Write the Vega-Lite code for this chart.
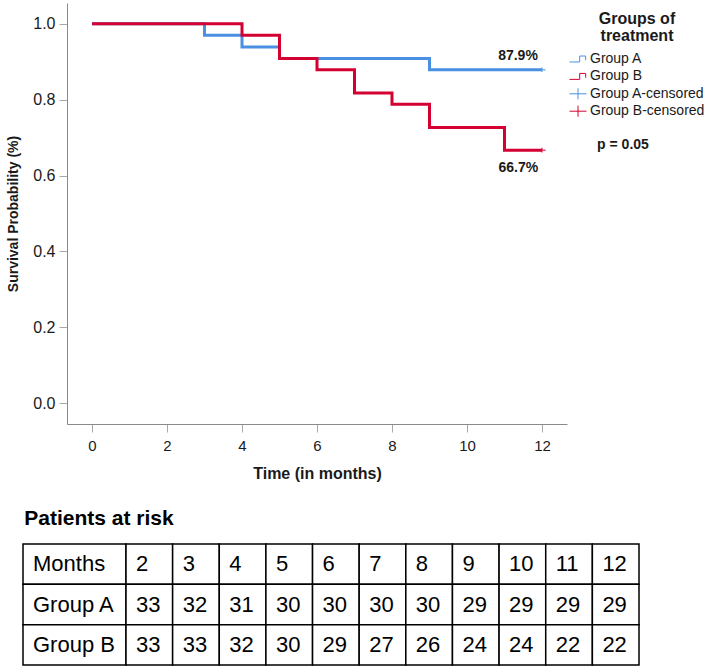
{
  "$schema": "https://vega.github.io/schema/vega-lite/v6.json",
  "padding": {"left": 6, "top": 3, "right": 0, "bottom": 0},
  "background": "white",
  "config": {
    "font": "Liberation Sans",
    "view": {"stroke": null},
    "axis": {"grid": false}
  },
  "datasets": {
    "km": [
      {"series": "Group A", "month": 0, "surv": 1.0},
      {"series": "Group A", "month": 3, "surv": 0.970},
      {"series": "Group A", "month": 4, "surv": 0.939},
      {"series": "Group A", "month": 5, "surv": 0.909},
      {"series": "Group A", "month": 9, "surv": 0.879},
      {"series": "Group A", "month": 12, "surv": 0.879},
      {"series": "Group B", "month": 0, "surv": 1.0},
      {"series": "Group B", "month": 4, "surv": 0.970},
      {"series": "Group B", "month": 5, "surv": 0.909},
      {"series": "Group B", "month": 6, "surv": 0.879},
      {"series": "Group B", "month": 7, "surv": 0.818},
      {"series": "Group B", "month": 8, "surv": 0.788},
      {"series": "Group B", "month": 9, "surv": 0.727},
      {"series": "Group B", "month": 11, "surv": 0.667},
      {"series": "Group B", "month": 12, "surv": 0.667}
    ],
    "censor": [
      {"series": "Group A-censored", "month": 12, "surv": 0.879},
      {"series": "Group B-censored", "month": 12, "surv": 0.667}
    ],
    "notes": [
      {"month": 11.36, "surv": 0.916, "label": "87.9%"},
      {"month": 11.37, "surv": 0.621, "label": "66.7%"},
      {"month": 14.16, "surv": 0.681, "label": "p = 0.05"}
    ],
    "labels": [
      {"row": "Months", "col": "label", "text": "Months"},
      {"row": "Group A", "col": "label", "text": "Group A"},
      {"row": "Group B", "col": "label", "text": "Group B"}
    ],
    "cells": [
      {"row": "Months", "col": 2, "text": "2"},
      {"row": "Months", "col": 3, "text": "3"},
      {"row": "Months", "col": 4, "text": "4"},
      {"row": "Months", "col": 5, "text": "5"},
      {"row": "Months", "col": 6, "text": "6"},
      {"row": "Months", "col": 7, "text": "7"},
      {"row": "Months", "col": 8, "text": "8"},
      {"row": "Months", "col": 9, "text": "9"},
      {"row": "Months", "col": 10, "text": "10"},
      {"row": "Months", "col": 11, "text": "11"},
      {"row": "Months", "col": 12, "text": "12"},
      {"row": "Group A", "col": 2, "text": "33"},
      {"row": "Group A", "col": 3, "text": "32"},
      {"row": "Group A", "col": 4, "text": "31"},
      {"row": "Group A", "col": 5, "text": "30"},
      {"row": "Group A", "col": 6, "text": "30"},
      {"row": "Group A", "col": 7, "text": "30"},
      {"row": "Group A", "col": 8, "text": "30"},
      {"row": "Group A", "col": 9, "text": "29"},
      {"row": "Group A", "col": 10, "text": "29"},
      {"row": "Group A", "col": 11, "text": "29"},
      {"row": "Group A", "col": 12, "text": "29"},
      {"row": "Group B", "col": 2, "text": "33"},
      {"row": "Group B", "col": 3, "text": "33"},
      {"row": "Group B", "col": 4, "text": "32"},
      {"row": "Group B", "col": 5, "text": "30"},
      {"row": "Group B", "col": 6, "text": "29"},
      {"row": "Group B", "col": 7, "text": "27"},
      {"row": "Group B", "col": 8, "text": "26"},
      {"row": "Group B", "col": 9, "text": "24"},
      {"row": "Group B", "col": 10, "text": "24"},
      {"row": "Group B", "col": 11, "text": "22"},
      {"row": "Group B", "col": 12, "text": "22"}
    ]
  },
  "spacing": 27,
  "vconcat": [
    {
      "width": 500,
      "height": 421,
      "layer": [
        {
          "data": {"name": "km"},
          "mark": {"type": "line", "interpolate": "step-after", "strokeWidth": 3},
          "encoding": {
            "x": {
              "field": "month", "type": "quantitative",
              "scale": {"domain": [-0.667, 12.667], "nice": false, "zero": false},
              "axis": {
                "values": [0, 2, 4, 6, 8, 10, 12],
                "title": "Time (in months)",
                "titleFontSize": 16, "titleFontWeight": "bold", "titleColor": "#1a1a1a",
                "labelFontSize": 15, "labelColor": "#1a1a1a", "labelFlush": false,
                "tickSize": 8, "labelPadding": 6, "titlePadding": 12,
                "domainColor": "#8a8a8a", "tickColor": "#a8a8a8"
              }
            },
            "y": {
              "field": "surv", "type": "quantitative",
              "scale": {"domain": [-0.055, 1.055], "nice": false, "zero": false},
              "axis": {
                "values": [0, 0.2, 0.4, 0.6, 0.8, 1.0],
                "format": ".1f",
                "title": "Survival Probability (%)",
                "titleFontSize": 14, "titleFontWeight": "bold", "titleColor": "#1a1a1a",
                "labelFontSize": 16, "labelColor": "#1a1a1a", "labelFlush": false,
                "tickSize": 8, "labelPadding": 4, "titlePadding": 12,
                "domainColor": "#8a8a8a", "tickColor": "#a8a8a8"
              }
            },
            "color": {
              "field": "series", "type": "nominal",
              "scale": {
                "domain": ["Group A", "Group B", "Group A-censored", "Group B-censored"],
                "range": ["#4a90e2", "#d50032", "#4a90e2", "#d50032"]
              },
              "legend": {
                "title": ["Groups of", "treatment"],
                "orient": "none", "legendX": 502, "legendY": 8,
                "titleFontSize": 16, "titleFontWeight": "bold", "titleColor": "#1a1a1a",
                "titleAnchor": "middle", "titleLineHeight": 17, "titlePadding": 6,
                "labelFontSize": 14, "labelColor": "#1a1a1a", "labelOffset": 3,
                "symbolSize": 289, "symbolStrokeWidth": 1, "rowPadding": 0.4,
                "gridAlign": "all",
                "padding": 0,
                "encode": {"symbols": {"update": {"size": {"value": 289}, "strokeWidth": {"value": 1}, "fill": {"value": "transparent"}}}}
              }
            }
          }
        },
        {
          "data": {"name": "censor"},
          "mark": {"type": "point", "filled": false, "size": 50, "strokeWidth": 1.5},
          "encoding": {
            "x": {"field": "month", "type": "quantitative"},
            "y": {"field": "surv", "type": "quantitative"},
            "color": {"field": "series", "type": "nominal"},
            "shape": {
              "field": "series", "type": "nominal",
              "scale": {
                "domain": ["Group A", "Group B", "Group A-censored", "Group B-censored"],
                "range": ["M-1,0.35H0.2V-0.35H0.9V0.15", "M-1,0.35H0.2V-0.35H0.9V0.15", "M-1,0H1M0,-0.65V0.65", "M-1,0H1M0,-0.65V0.65"]
              },
              "legend": {
                "title": ["Groups of", "treatment"],
                "orient": "none", "legendX": 502, "legendY": 8,
                "titleFontSize": 16, "titleFontWeight": "bold", "titleColor": "#1a1a1a",
                "titleAnchor": "middle", "titleLineHeight": 17, "titlePadding": 6,
                "labelFontSize": 14, "labelColor": "#1a1a1a", "labelOffset": 3,
                "symbolSize": 289, "symbolStrokeWidth": 1, "rowPadding": 0.4,
                "gridAlign": "all",
                "padding": 0,
                "encode": {"symbols": {"update": {"size": {"value": 289}, "strokeWidth": {"value": 1}, "fill": {"value": "transparent"}}}}
              }
            }
          }
        },
        {
          "data": {"name": "notes"},
          "mark": {"type": "text", "fontWeight": "bold", "fontSize": 14, "color": "#1a1a1a"},
          "encoding": {
            "x": {"field": "month", "type": "quantitative"},
            "y": {"field": "surv", "type": "quantitative"},
            "text": {"field": "label"}
          }
        }
      ]
    },
    {
      "title": {"text": "Patients at risk", "anchor": "start", "fontSize": 21, "fontWeight": "bold", "color": "#000000", "dx": 2, "offset": 14},
      "spacing": 0,
      "bounds": "flush",
      "hconcat": [
        {
          "data": {"name": "labels"},
          "width": 59,
          "height": 121,
          "encoding": {
            "x": {"field": "col", "type": "nominal", "scale": {"range": [-44, 59], "paddingInner": 0, "paddingOuter": 0}, "axis": null},
            "y": {
              "field": "row", "type": "nominal",
              "scale": {"domain": ["Months", "Group A", "Group B"], "paddingInner": 0, "paddingOuter": 0},
              "axis": null
            }
          },
          "layer": [
            {"mark": {"type": "rect", "fill": "white", "stroke": "black", "strokeWidth": 1.5}},
            {"mark": {"type": "text", "align": "left", "dx": -41.5, "fontSize": 22, "color": "black"}, "encoding": {"text": {"field": "text"}}}
          ]
        },
        {
          "data": {"name": "cells"},
          "width": 513,
          "height": 121,
          "encoding": {
            "x": {"field": "col", "type": "ordinal", "scale": {"paddingInner": 0, "paddingOuter": 0}, "axis": null},
            "y": {
              "field": "row", "type": "nominal",
              "scale": {"domain": ["Months", "Group A", "Group B"], "paddingInner": 0, "paddingOuter": 0},
              "axis": null
            }
          },
          "layer": [
            {"mark": {"type": "rect", "fill": "white", "stroke": "black", "strokeWidth": 1.5}},
            {"mark": {"type": "text", "align": "left", "dx": -13.3, "fontSize": 22, "color": "black"}, "encoding": {"text": {"field": "text"}}}
          ]
        }
      ]
    }
  ]
}
